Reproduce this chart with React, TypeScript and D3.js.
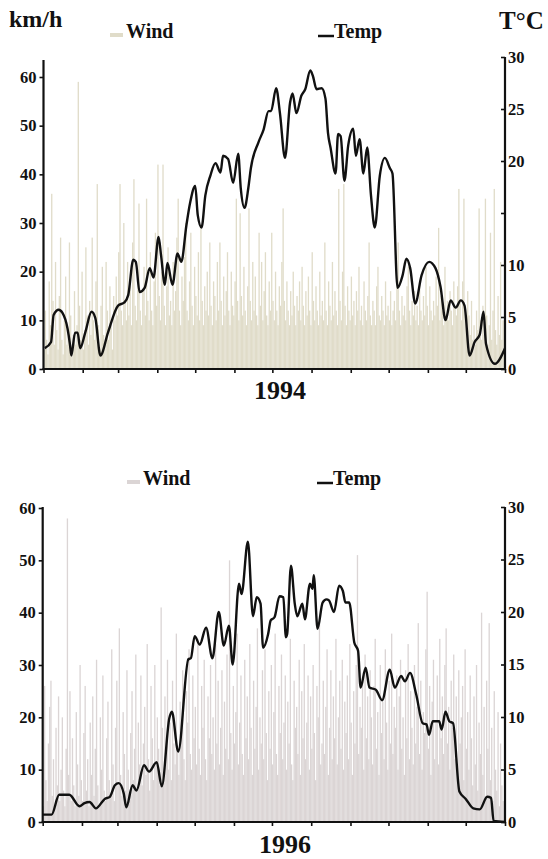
import { useEffect, useRef } from 'react';
import * as d3 from 'd3';

// month boundaries (day of year) used for the x ticks
const monthStarts = [0, 31, 59, 90, 120, 151, 181, 212, 243, 273, 304, 334, 365];
const kmhTicks = [0, 10, 20, 30, 40, 50, 60];
const tempTicks = [0, 5, 10, 15, 20, 25, 30];

// daily wind, km/h
const wind1994 = [
  4, 12, 6, 3, 18, 9, 36, 14, 5, 22, 8, 4, 15, 27, 6, 3, 10, 19, 5, 8,
  26, 11, 4, 7, 16, 5, 9, 59, 13, 6, 20, 4, 8, 25, 11, 5, 14, 7, 27, 10,
  6, 18, 38, 9, 4, 13, 21, 7, 5, 22, 12, 6, 17, 9, 4, 15, 10, 19, 11, 24,
  38, 12, 9, 30, 14, 10, 22, 11, 17, 9, 26, 39, 13, 10, 19, 34, 12, 9, 16, 21,
  11, 35, 14, 10, 24, 12, 9, 18, 28, 13, 42, 15, 10, 20, 42, 13, 9, 17, 25, 11,
  14, 9, 22, 12, 16, 27, 35, 12, 9, 19, 14, 23, 30, 12, 10, 18, 28, 13, 9, 21,
  15, 11, 24, 10, 29, 14, 9, 17, 12, 20, 11, 26, 13, 9, 18, 15, 10, 22, 12, 26,
  14, 9, 19, 11, 16, 24, 12, 9, 20, 13, 11, 18, 35, 14, 10, 32, 15, 11, 21, 12,
  9, 17, 33, 14, 10, 22, 12, 19, 11, 9, 28, 13, 22, 10, 16, 24, 11, 9, 18, 12,
  28, 14, 10, 20, 12, 9, 17, 13, 22, 33, 14, 10, 18, 12, 9, 16, 11, 20, 13, 9,
  15, 12, 18, 10, 21, 13, 9, 16, 11, 19, 12, 9, 24, 14, 10, 17, 12, 9, 20, 11,
  14, 10, 26, 12, 9, 18, 13, 10, 22, 11, 16, 12, 9, 37, 14, 10, 20, 38, 13, 9,
  17, 12, 10, 19, 11, 14, 9, 16, 12, 21, 10, 13, 9, 18, 12, 10, 15, 26, 11, 9,
  14, 12, 9, 17, 21, 11, 10, 15, 12, 9, 18, 11, 13, 10, 16, 9, 12, 14, 10, 19,
  26, 12, 9, 15, 11, 13, 10, 17, 21, 12, 9, 14, 11, 16, 10, 13, 9, 18, 12, 10,
  15, 11, 21, 13, 9, 17, 12, 10, 14, 11, 19, 13, 29, 10, 15, 12, 9, 21, 11, 14,
  10, 16, 12, 9, 18, 13, 11, 17, 37, 14, 10, 18, 35, 12, 9, 16, 11, 7, 14, 6,
  9, 5, 12, 8, 33, 10, 6, 13, 7, 35, 11, 5, 9, 28, 6, 12, 37, 8, 5, 15,
  7, 22, 6, 10, 4,
];

const wind1996 = [
  3, 26, 8, 4, 15, 22, 27, 5, 12, 3, 18, 7, 24, 4, 10, 20, 6, 3, 14, 58,
  9, 25, 4, 16, 7, 3, 21, 11, 5, 30, 8, 4, 17, 26, 6, 12, 3, 19, 9, 24,
  5, 14, 31, 7, 3, 20, 10, 28, 6, 4, 16, 23, 8, 5, 33, 11, 4, 18, 27, 7,
  37, 9, 5, 21, 13, 6, 29, 10, 4, 17, 25, 8, 14, 32, 6, 19, 11, 28, 7, 15,
  22, 9, 34, 12, 6, 26, 16, 8, 30, 11, 20, 14, 7, 41, 18, 9, 24, 13, 31, 10,
  19, 8, 27, 15, 11, 36, 14, 9, 23, 17, 29, 12, 8, 25, 19, 33, 13, 10, 28, 16,
  22, 11, 35, 14, 9, 26, 18, 31, 12, 8, 24, 16, 30, 13, 20, 10, 34, 15, 27, 11,
  18, 29, 9, 23, 14, 32, 12, 50, 17, 10, 26, 15, 21, 36, 11, 19, 28, 13, 9, 31,
  16, 24, 12, 34, 18, 9, 27, 14, 22, 37, 10, 20, 15, 29, 12, 33, 17, 8, 25, 14,
  30, 11, 21, 36, 13, 9, 26, 17, 32, 12, 19, 28, 10, 23, 15, 35, 11, 8, 27, 18,
  22, 13, 31, 9, 25, 16, 34, 12, 19, 28, 10, 24, 14, 30, 17, 8, 26, 20, 38, 11,
  15, 27, 13, 22, 33, 9, 18, 29, 12, 24, 16, 35, 11, 20, 27, 14, 31, 10, 23, 17,
  28, 12, 34, 19, 9, 25, 15, 30, 51, 13, 22, 18, 27, 10, 32, 16, 24, 12, 29, 20,
  11, 26, 35, 14, 21, 9, 30, 17, 23, 12, 33, 19, 10, 27, 15, 36, 13, 22, 18, 28,
  10, 24, 31, 14, 20, 9, 29, 16, 34, 12, 25, 18, 11, 30, 15, 22, 38, 13, 27, 10,
  21, 17, 33, 44, 14, 26, 9, 23, 31, 12, 19, 28, 11, 35, 16, 24, 13, 30, 37, 15,
  22, 10, 27, 18, 32, 12, 24, 9, 29, 15, 20, 26, 8, 33, 14, 21, 10, 28, 16, 7,
  24, 11, 30, 6, 19, 13, 40, 9, 22, 5, 27, 14, 38, 8, 18, 4, 25, 10, 6, 21,
  3, 15, 7, 4, 2,
];

// [day of year, °C]
const temp1994: [number, number][] = [
  [1, 2.0], [6, 2.6], [8, 5.2], [12, 5.7], [15, 5.4], [19, 3.9], [21, 2.3], [22, 1.3],
  [25, 3.5], [27, 3.5], [29, 2.0], [33, 3.5], [38, 5.5], [41, 4.9], [45, 1.3], [51, 3.5],
  [59, 6.1], [64, 6.4], [67, 7.1], [71, 10.5], [73, 10.3], [76, 7.4], [80, 7.8], [84, 9.7],
  [87, 8.8], [91, 12.7], [93, 10.9], [96, 8.1], [98, 10.2], [102, 8.1], [106, 11.1], [109, 10.3],
  [113, 13.8], [116, 16.0], [120, 17.6], [122, 14.8], [125, 13.6], [128, 16.7], [132, 18.6],
  [136, 19.8], [140, 18.9], [142, 20.5], [146, 20.2], [150, 17.9], [154, 20.7], [156, 17.4],
  [159, 15.5], [162, 17.4], [164, 19.3], [170, 21.8], [174, 23.0], [178, 24.8], [180, 24.8],
  [184, 27.0], [187, 24.6], [191, 20.3], [195, 25.6], [197, 26.5], [200, 24.6], [204, 26.3],
  [207, 26.9], [211, 28.7], [213, 28.2], [216, 26.9], [220, 27.0], [223, 26.0], [225, 22.7],
  [227, 21.3], [231, 18.8], [233, 22.6], [235, 22.4], [238, 18.1], [241, 21.5], [245, 23.1],
  [247, 20.5], [250, 22.1], [253, 18.8], [256, 21.3], [259, 16.7], [262, 13.6], [266, 18.6],
  [270, 20.3], [274, 19.3], [276, 18.8], [280, 7.8], [284, 9.0], [287, 10.6], [290, 9.7],
  [294, 6.3], [299, 9.0], [305, 10.3], [310, 9.7], [314, 7.9], [318, 4.7], [322, 6.6],
  [326, 5.9], [330, 6.6], [333, 6.1], [337, 1.3], [341, 2.6], [345, 3.3], [348, 5.5],
  [350, 2.4], [357, 0.5], [365, 2.0],
];

const temp1996: [number, number][] = [
  [0, 0.7], [7, 0.7], [13, 2.6], [21, 2.6], [29, 1.5], [33, 1.8], [37, 1.9], [42, 1.3],
  [49, 2.2], [53, 2.4], [57, 3.5], [60, 3.7], [64, 2.7], [66, 1.4], [71, 3.5], [74, 3.0],
  [80, 5.4], [84, 4.8], [90, 5.7], [94, 3.4], [100, 9.9], [102, 10.5], [107, 6.7], [115, 15.5],
  [117, 15.6], [120, 17.7], [124, 16.9], [129, 18.5], [134, 15.6], [139, 20.0], [143, 16.8],
  [147, 18.7], [150, 15.0], [155, 22.7], [157, 21.7], [162, 26.7], [166, 19.6], [169, 21.4],
  [172, 20.8], [174, 16.6], [178, 17.9], [180, 19.2], [183, 19.5], [187, 21.5], [190, 21.4],
  [192, 17.6], [193, 17.9], [196, 24.4], [199, 20.8], [201, 19.6], [205, 20.8], [207, 19.3],
  [211, 22.7], [213, 22.2], [214, 23.5], [217, 18.4], [221, 20.9], [224, 21.2], [226, 21.1],
  [230, 20.0], [234, 22.5], [237, 22.0], [239, 20.9], [242, 20.9], [246, 17.1], [249, 16.3],
  [251, 12.8], [255, 14.7], [258, 12.8], [263, 12.6], [268, 11.6], [274, 14.5], [278, 12.8],
  [283, 13.9], [286, 13.4], [290, 14.2], [295, 12.1], [300, 9.4], [303, 9.3], [305, 8.3],
  [308, 9.6], [313, 9.6], [315, 8.8], [318, 10.5], [321, 9.6], [324, 9.4], [329, 2.9],
  [334, 2.2], [340, 1.3], [345, 1.2], [351, 2.4], [354, 2.3], [356, 0.1], [365, 0],
];

const FONT = '"Liberation Serif", "Times New Roman", serif';

interface PanelProps {
  year: string;
  wind: number[];
  temp: [number, number][];
  windColor: string;
  x0: number;
  x1: number;
  yZero: number;
  yKmh60: number;
  yTemp30: number;
  leftAxisTop: number;
  hideTemp15?: boolean;
  yearX: number;
  yearY: number;
  legendY: number;
  windLegendX: number;
  tempLegendX: number;
}

function Panel(p: PanelProps) {
  const ref = useRef<SVGGElement>(null);

  useEffect(() => {
    if (!ref.current) return;
    const g = d3.select(ref.current);
    g.selectAll('*').remove();

    const x = d3.scaleLinear().domain([0, 365]).range([p.x0, p.x1]);
    const yL = d3.scaleLinear().domain([0, 60]).range([p.yZero, p.yKmh60]);
    const yR = d3.scaleLinear().domain([0, 30]).range([p.yZero, p.yTemp30]);
    const bw = x(1) - x(0);

    // wind bars, one per day, touching so the low part reads as a solid band
    g.append('g')
      .selectAll('rect')
      .data(p.wind)
      .join('rect')
      .attr('x', (_d, i) => x(i))
      .attr('y', (d) => yL(d))
      .attr('width', bw + 0.05)
      .attr('height', (d) => p.yZero - yL(d))
      .attr('fill', p.windColor);

    // temperature line
    const line = d3
      .line<[number, number]>()
      .x((d) => x(d[0]))
      .y((d) => yR(d[1]))
      .curve(d3.curveMonotoneX);

    g.append('path')
      .datum(p.temp)
      .attr('d', line)
      .attr('fill', 'none')
      .attr('stroke', '#111')
      .attr('stroke-width', 2.4)
      .attr('stroke-linejoin', 'round');

    const styleAxis = (a: d3.Selection<SVGGElement, unknown, null, undefined>) => {
      a.attr('font-family', FONT).attr('font-size', 16.5).attr('font-weight', 'bold');
      a.selectAll('.tick line').attr('stroke', '#111').attr('stroke-width', 1.6);
      a.selectAll('.tick text').attr('fill', '#111');
      a.select('.domain').remove();
    };

    // x axis
    const xa = g
      .append('g')
      .attr('transform', `translate(0,${p.yZero})`)
      .call(d3.axisBottom(x).tickValues(monthStarts).tickSize(4).tickFormat(() => ''));
    styleAxis(xa);
    xa.append('line')
      .attr('x1', p.x0 - 1)
      .attr('x2', p.x1 + 1)
      .attr('stroke', '#111')
      .attr('stroke-width', 2.2);

    // left axis (km/h)
    const la = g
      .append('g')
      .attr('transform', `translate(${p.x0},0)`)
      .call(d3.axisLeft(yL).tickValues(kmhTicks).tickSize(4).tickPadding(3).tickFormat(d3.format('d')));
    styleAxis(la);
    la.append('line')
      .attr('y1', p.yZero + 1)
      .attr('y2', p.leftAxisTop)
      .attr('stroke', '#111')
      .attr('stroke-width', 2.2);

    // right axis (T°C)
    const ra = g
      .append('g')
      .attr('transform', `translate(${p.x1},0)`)
      .call(
        d3
          .axisRight(yR)
          .tickValues(tempTicks)
          .tickSize(-4)
          .tickPadding(3)
          .tickFormat((d) => (p.hideTemp15 && d === 15 ? '' : String(d)))
      );
    styleAxis(ra);
    ra.append('line')
      .attr('y1', p.yZero + 1)
      .attr('y2', p.yTemp30)
      .attr('stroke', '#111')
      .attr('stroke-width', 2.2);
  }, [p]);

  return (
    <g>
      <g ref={ref} />
      {/* legend */}
      <rect x={p.windLegendX - 16} y={p.legendY - 5} width={13} height={4} fill={p.windColor} />
      <text x={p.windLegendX} y={p.legendY} fontFamily={FONT} fontWeight="bold" fontSize={20} fill="#111">
        Wind
      </text>
      <line
        x1={p.tempLegendX - 16}
        x2={p.tempLegendX}
        y1={p.legendY - 2}
        y2={p.legendY - 2}
        stroke="#111"
        strokeWidth={2.5}
      />
      <text x={p.tempLegendX} y={p.legendY} fontFamily={FONT} fontWeight="bold" fontSize={20} fill="#111">
        Temp
      </text>
      <text
        x={p.yearX}
        y={p.yearY}
        textAnchor="middle"
        fontFamily={FONT}
        fontWeight="bold"
        fontSize={26}
        fill="#111"
      >
        {p.year}
      </text>
    </g>
  );
}

const top: PanelProps = {
  year: '1994',
  wind: wind1994,
  temp: temp1994,
  windColor: '#e0dcc9',
  x0: 43.5,
  x1: 505,
  yZero: 369,
  yKmh60: 77,
  yTemp30: 57,
  leftAxisTop: 60,
  hideTemp15: true,
  yearX: 280,
  yearY: 399,
  legendY: 38,
  windLegendX: 126,
  tempLegendX: 334,
};

const bottom: PanelProps = {
  year: '1996',
  wind: wind1996,
  temp: temp1996,
  windColor: '#dbd5d5',
  x0: 42.7,
  x1: 505,
  yZero: 822,
  yKmh60: 508,
  yTemp30: 507,
  leftAxisTop: 507,
  yearX: 285,
  yearY: 853,
  legendY: 485,
  windLegendX: 143,
  tempLegendX: 333,
};

export default function App() {
  return (
    <svg
      width={548}
      height={859}
      style={{ position: 'absolute', left: 0, top: 0, background: '#fff' }}
    >
      <text x={9} y={27} fontFamily={FONT} fontWeight="bold" fontSize={24} fill="#111">
        km/h
      </text>
      <text x={499} y={29} fontFamily={FONT} fontWeight="bold" fontSize={25} fill="#111">
        T°C
      </text>
      <Panel {...top} />
      <Panel {...bottom} />
    </svg>
  );
}
